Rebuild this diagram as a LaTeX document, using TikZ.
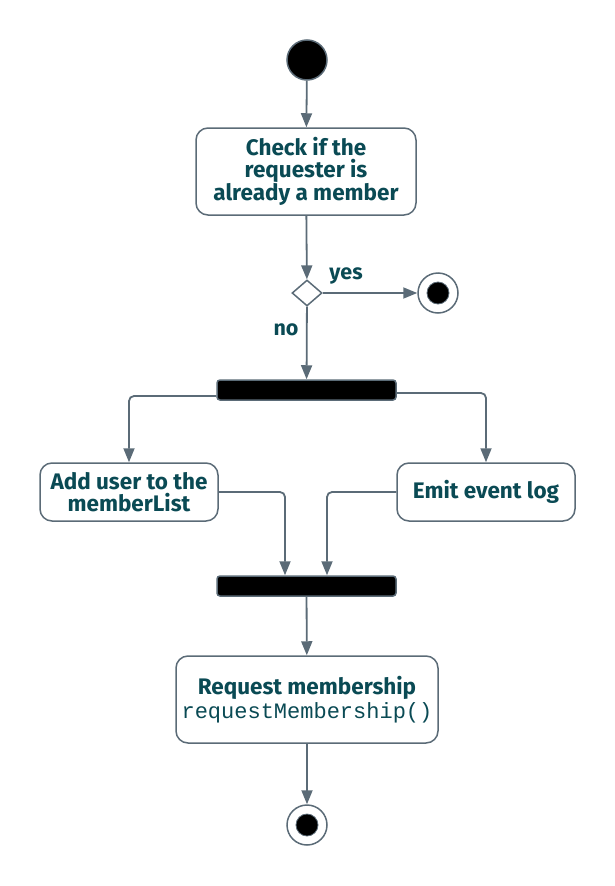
\documentclass[tikz,border=0pt]{standalone}
\usepackage{fontspec}
\setmainfont{Fira Sans}
\setmonofont{Liberation Mono}
\usetikzlibrary{shapes.geometric,arrows.meta}
\definecolor{txtc}{HTML}{0A4A54}
\definecolor{linec}{HTML}{5B6B77}
\tikzset{
  lbl/.style={text=txtc,font=\fontsize{21.5}{22}\selectfont\bfseries},
  actbox/.style={draw=linec,line width=1.5,fill=white,rounded corners=12,align=center,text=txtc,font=\fontsize{22.5}{22}\selectfont\bfseries,inner sep=0},
  bar/.style={draw=linec,line width=1.5,fill=black,rounded corners=3,minimum width=179,minimum height=20,inner sep=0},
  arr/.style={draw=linec,line width=1.8,-{Triangle[width=11pt,length=14pt]},rounded corners=5},
}
\begin{document}
\begin{tikzpicture}[x=1pt,y=-1pt]
\useasboundingbox (0,0) rectangle (615,886);
\node[circle,fill=black,draw=linec,line width=1.5,minimum size=40,inner sep=0] (start) at (307,60) {};
\node[actbox,minimum width=220,minimum height=87] (check) at (306,171.5) {Check if the\\requester is\\already a member};
\node[diamond,draw=linec,line width=1.5,fill=white,minimum width=30,minimum height=26,inner sep=0] (dec) at (307,293) {};
\node[circle,draw=linec,line width=1.5,fill=white,minimum size=40,inner sep=0] (end1) at (438,293) {};
\node[circle,draw=linec,line width=0.8,fill=black,minimum size=22,inner sep=0] at (end1) {};
\node[lbl] (yes) at (346,276) {yes};
\node[lbl] (no) at (286,330) {no};
\node[bar] (fork) at (306.5,390) {};
\node[actbox,minimum width=178,minimum height=58] (add) at (129,492) {Add user to the\\memberList};
\node[actbox,minimum width=178,minimum height=58] (emit) at (486,492) {Emit event log};
\node[bar] (join) at (306.5,586) {};
\node[actbox,minimum width=262,minimum height=87] (req) at (307,699.5) {Request membership\\[2pt]{\mdseries\fontsize{22}{22}\selectfont\ttfamily requestMembership()}};
\node[circle,draw=linec,line width=1.5,fill=white,minimum size=40,inner sep=0] (end2) at (307,825) {};
\node[circle,draw=linec,line width=0.8,fill=black,minimum size=22,inner sep=0] at (end2) {};
\draw[arr] (start) -- (check);
\draw[arr] (check) -- (dec);
\draw[arr] (dec) -- (end1);
\draw[arr] (dec) -- (fork);
\draw[arr] ([yshift=-6]fork.west) -| (add.north);
\draw[arr] ([yshift=-3]fork.east) -| (emit.north);
\draw[arr] (add.east) -| ([xshift=-21.5]join.north);
\draw[arr] (emit.west) -| ([xshift=20.5]join.north);
\draw[arr] (join) -- (req);
\draw[arr] (req) -- (end2);
\end{tikzpicture}
\end{document}
